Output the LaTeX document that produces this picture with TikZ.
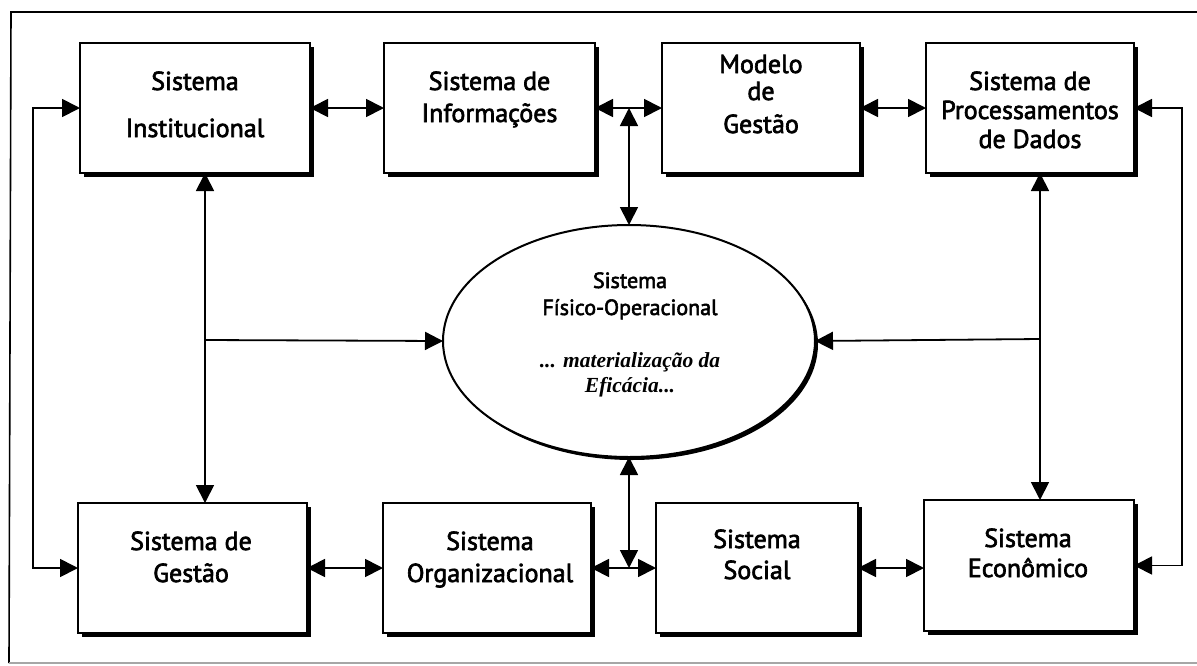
\documentclass[tikz,border=0pt]{standalone}
\usepackage{fontspec}
\setmainfont{PT Sans}
\newfontfamily\boxfont{PT Sans}[FakeBold=2.5]
\newfontfamily\notefont{Liberation Serif}
\usetikzlibrary{arrows.meta,shadows,shapes.geometric}

\tikzset{
  box/.style={draw, line width=2pt, fill=white, inner sep=0pt, outer sep=0pt,
    minimum height=130pt,
    drop shadow={shadow xshift=4pt, shadow yshift=-4pt, opacity=1, fill=black}},
  core/.style={ellipse, draw, line width=2pt, fill=white, inner sep=0pt, outer sep=0pt,
    minimum width=372pt, minimum height=232pt,
    drop shadow={shadow xshift=3pt, shadow yshift=-3pt, opacity=1, fill=black}},
  lbl/.style={font=\boxfont\fontsize{26}{30}\selectfont, inner sep=0pt, anchor=base},
  clbl/.style={font=\boxfont\fontsize{22}{26}\selectfont, inner sep=0pt, anchor=base},
  note/.style={font=\notefont\bfseries\itshape\fontsize{21.5}{25}\selectfont, inner sep=0pt, anchor=base},
  link/.style={line width=1.8pt},
  >={Triangle[length=18pt,width=18pt]},
  frame/.style={line width=1.6pt}
}

\begin{document}
\begin{tikzpicture}[x=1pt,y=-1pt]
\useasboundingbox (0,0) rectangle (1197,665);
\fill[white] (0,0) rectangle (1197,665);

% outer frame
\draw[frame] (1197,12) -- (11,12) -- (9,663);
\draw[frame, black!35] (9,663) -- (1197,663);

% top row
\node[box, minimum width=230pt] (inst) at (195,108) {};
\node[box, minimum width=211pt] (info) at (489.5,108) {};
\node[box, minimum width=198pt] (modelo) at (761,108) {};
\node[box, minimum width=208pt] (proc) at (1030,108) {};

% bottom row
\node[box, minimum width=229pt] (gest) at (192.5,568) {};
\node[box, minimum width=208pt] (org) at (487,568) {};
\node[box, minimum width=202pt] (soc) at (757,568) {};
\node[box, minimum width=210pt, minimum height=131pt] (eco) at (1029,565.5) {};

% central ellipse
\node[core] (fis) at (629,341) {};

% labels
\node[lbl] (inst1) at (195,90) {Sistema};
\node[lbl] (inst2) at (195,137) {Institucional};
\node[lbl] (info1) at (489.5,90) {Sistema de};
\node[lbl] (info2) at (489.5,122) {Informações};
\node[lbl] (mod1) at (761,73) {Modelo};
\node[lbl] (mod2) at (761,100) {de};
\node[lbl] (mod3) at (761,133) {Gestão};
\node[lbl] (proc1) at (1030,90) {Sistema de};
\node[lbl] (proc2) at (1030,119) {Processamentos};
\node[lbl] (proc3) at (1030,148) {de Dados};
\node[lbl] (gest1) at (191,550) {Sistema de};
\node[lbl] (gest2) at (191,582) {Gestão};
\node[lbl] (org1) at (490,550) {Sistema};
\node[lbl] (org2) at (490,582) {Organizacional};
\node[lbl] (soc1) at (757,548) {Sistema};
\node[lbl] (soc2) at (757,579) {Social};
\node[lbl] (eco1) at (1028,547) {Sistema};
\node[lbl] (eco2) at (1028,577) {Econômico};
\node[clbl] (fis1) at (630,288) {Sistema};
\node[clbl] (fis2) at (630,315) {Físico-Operacional};
\node[note] (fis3) at (630,367) {... materialização da};
\node[note] (fis4) at (630,392) {Eficácia...};

% junction points
\coordinate (tj) at (fis.north |- info.east);
\coordinate (bj) at (fis.south |- org.east);
\coordinate (lv) at (205,340);
\coordinate (rv) at (1040,339);

% top row links
\draw[link,<->] (inst.east) -- (info.west);
\draw[link,<->] (info.east) -- (modelo.west);
\draw[link,<->] (modelo.east) -- (proc.west);
\draw[link,<->] (tj) -- (fis.north);

% bottom row links
\draw[link,<->] (gest.east) -- (org.west);
\draw[link,<->] (org.east) -- (soc.west);
\draw[link,<->] (soc.east) -- (soc.east -| eco.west);
\draw[link,<->] (fis.south) -- (bj);

% left side
\draw[link,<->] (inst.west) -- ++(-47,0) |- (gest.west);
\draw[link,<->] (lv |- inst.south) -- (lv |- gest.north);
\draw[link,->] (lv) -- (fis.west);

% right side
\draw[link,<->] (proc.east) -- ++(48,0) |- (eco.east);
\draw[link,<->] (rv |- proc.south) -- (rv |- eco.north);
\draw[link,->] (rv) -- (fis.east);
\end{tikzpicture}
\end{document}
